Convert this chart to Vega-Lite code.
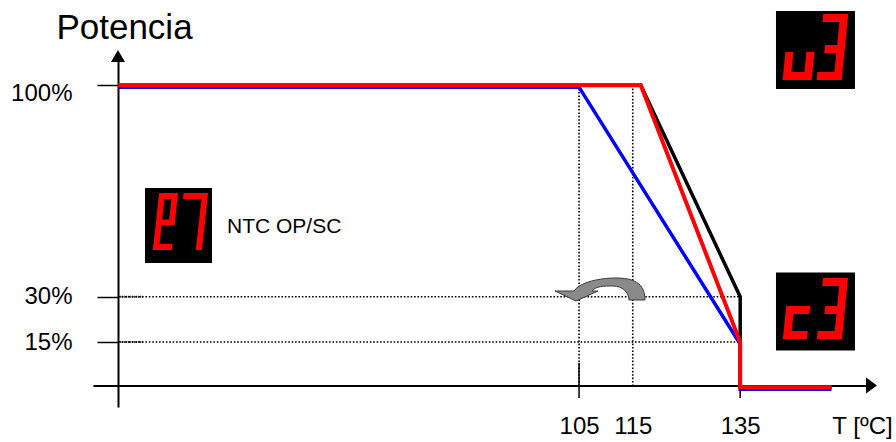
{
  "$schema": "https://vega.github.io/schema/vega-lite/v6.json",
  "width": 775,
  "height": 349,
  "autosize": {"type": "none"},
  "padding": {"left": 93, "top": 58, "right": 28, "bottom": 35},
  "background": "white",
  "config": {"view": {"stroke": null}, "axis": {"grid": false}, "font": "Liberation Sans"},
  "datasets": {
    "hdots": [
      {"T": 19.2, "T2": 135, "P": 30},
      {"T": 19.2, "T2": 135, "P": 15}
    ],
    "hdense": [
      {"T": 19.2, "T2": 23.8, "P": 30},
      {"T": 19.2, "T2": 23.8, "P": 15}
    ],
    "vdots": [
      {"T": 105, "P": 100, "P2": 0},
      {"T": 115, "P": 100, "P2": 0}
    ],
    "ticks": [
      {"T": 105, "P": 8.06, "P2": -3.52},
      {"T": 135, "P": 8.06, "P2": -3.52}
    ],
    "series": [
      {"s": "black", "i": 0, "T": 19.2, "P": 100},
      {"s": "black", "i": 1, "T": 116.5, "P": 100},
      {"s": "black", "i": 2, "T": 135, "P": 30},
      {"s": "black", "i": 3, "T": 135, "P": 0},
      {"s": "black", "i": 4, "T": 152, "P": 0},
      {"s": "blue", "i": 0, "T": 19.2, "P": 100},
      {"s": "blue", "i": 1, "T": 105, "P": 100},
      {"s": "blue", "i": 2, "T": 135, "P": 15},
      {"s": "blue", "i": 3, "T": 135, "P": 0},
      {"s": "blue", "i": 4, "T": 152, "P": 0},
      {"s": "red", "i": 0, "T": 19.2, "P": 100},
      {"s": "red", "i": 1, "T": 116.5, "P": 100},
      {"s": "red", "i": 2, "T": 135, "P": 15},
      {"s": "red", "i": 3, "T": 135, "P": 0},
      {"s": "red", "i": 4, "T": 152, "P": 0}
    ],
    "arrows": [
      {"name": "yarrow", "T": 19.15, "P": 111.65},
      {"name": "xarrow", "T": 160.47, "P": 0}
    ],
    "curve": [
      {"name": "swap", "T": 108.9, "P": 32.22}
    ],
    "boxes": [
      {"name": "u3box", "T": 149.02, "P": 111.65},
      {"name": "c3box", "T": 149.02, "P": 25.1},
      {"name": "e7box", "T": 30.42, "P": 53.57}
    ],
    "displays": [
      {"name": "u3", "T": 149.02, "P": 111.65},
      {"name": "c3", "T": 149.02, "P": 25.1},
      {"name": "e7", "T": 30.42, "P": 53.57}
    ],
    "notes": [
      {"label": "NTC OP/SC", "T": 39.45, "P": 53.07}
    ]
  },
  "encoding": {
    "x": {
      "field": "T",
      "type": "quantitative",
      "scale": {"domain": [14.5, 158.8], "nice": false, "zero": false},
      "axis": {
        "orient": "bottom",
        "values": [105, 115, 135],
        "offset": -21.5,
        "domainColor": "black",
        "domainWidth": 2,
        "ticks": true,
        "tickSize": 0,
        "tickOpacity": 0,
        "labelPadding": 28.5,
        "labelFontSize": 24,
        "labelColor": "black",
        "labelFont": "Liberation Sans",
        "labelFlush": false,
        "labelOverlap": false,
        "title": "T [ºC]",
        "titleX": 769,
        "titleY": 28.5,
        "titleAlign": "center",
        "titleBaseline": "top",
        "titleFontSize": 24,
        "titleFontWeight": "normal",
        "titleColor": "black",
        "titleFont": "Liberation Sans"
      }
    },
    "y": {
      "field": "P",
      "type": "quantitative",
      "scale": {"domain": [-6.5, 109], "nice": false, "zero": false},
      "axis": {
        "orient": "left",
        "values": [15, 30, 100],
        "offset": -25,
        "domainColor": "black",
        "domainWidth": 2,
        "tickColor": "black",
        "tickSize": 21,
        "tickWidth": 1.5,
        "labelPadding": 25,
        "labelFontSize": 24,
        "labelColor": "black",
        "labelFont": "Liberation Sans",
        "labelExpr": "datum.value + '%'",
        "labelOffset": {"condition": {"test": "datum.value == 100", "value": 8}, "value": 0},
        "labelFlush": false,
        "labelOverlap": false,
        "title": "Potencia",
        "titleAngle": 0,
        "titleX": 6,
        "titleY": -48,
        "titleAlign": "center",
        "titleBaseline": "top",
        "titleFontSize": 35,
        "titleFontWeight": "normal",
        "titleColor": "black",
        "titleFont": "Liberation Sans"
      }
    },
    "shape": {
      "field": "name",
      "type": "nominal",
      "scale": {
        "domain": ["yarrow", "xarrow", "swap", "u3box", "c3box", "e7box", "u3", "c3", "e7"],
        "range": [
          "M0 0L7 12L-7 12Z",
          "M0 -1.9L-11 -9.9L-11 6.1Z",
          "M45 10C45 -8 32 -12 16 -12C0 -12 -20 -8 -26 1L-45 1L-24 11L-2 1L-8 1C-4 -4 4 -4 13 -4C22 -4 29 2 29 10Z",
          "M-39.5 -39L39.5 -39L39.5 39L-39.5 39Z",
          "M-39.5 -39L39.5 -39L39.5 39L-39.5 39Z",
          "M-33.5 -37.5L33.5 -37.5L33.5 37.5L-33.5 37.5Z",
          "M-30 2L-22 2L-24.8 30L-32.8 30Z M-9 2L-1 2L-3.8 30L-11.8 30Z M-32 22L-3 22L-3.8 30L-32.8 30Z M24.8 -36L32.8 -36L26.2 30L18.2 30Z M7.8 -36L32.8 -36L32 -28L7 -28Z M9.7 -5L29.7 -5L28.9 3L8.9 3Z M2 22L27 22L26.2 30L1.2 30Z",
          "M-29.25 -5.5L-5.25 -5.5L-6.05 2.5L-30.05 2.5Z M-29.25 -5.5L-21.25 -5.5L-24.55 27.5L-32.55 27.5Z M-31.75 19.5L-7.75 19.5L-8.55 27.5L-32.55 27.5Z M24.55 -33.5L32.55 -33.5L26.45 27.5L18.45 27.5Z M7.55 -33.5L32.55 -33.5L31.75 -25.5L6.75 -25.5Z M9.75 -5.5L29.75 -5.5L28.95 2.5L8.95 2.5Z M2.25 19.5L27.25 19.5L26.45 27.5L1.45 27.5Z",
          "M-19.4 -32.5L-13.4 -32.5L-19.6 24.5L-25.6 24.5Z M-19.4 -32.5L-0.4 -32.5L-1 -26.5L-20 -26.5Z M-6.4 -32.5L-0.4 -32.5L-3.6 -3L-9.6 -3Z M-22.3 -6L-3.3 -6L-3.9 0L-22.9 0Z M-25 18.5L-6 18.5L-6.6 24.5L-25.6 24.5Z M5.1 -32.5L29.6 -32.5L29 -26.5L4.5 -26.5Z M23.6 -32.5L29.6 -32.5L23.4 24.5L17.4 24.5Z"
        ]
      },
      "legend": null
    }
  },
  "layer": [
    {
      "data": {"name": "hdots"},
      "mark": {"type": "rule", "color": "black", "strokeWidth": 1.6, "strokeDash": [1.6, 1.8]},
      "encoding": {"x2": {"field": "T2"}, "shape": null}
    },
    {
      "data": {"name": "hdense"},
      "mark": {"type": "rule", "color": "black", "strokeWidth": 2, "strokeDash": [1, 1]},
      "encoding": {"x2": {"field": "T2"}, "shape": null}
    },
    {
      "data": {"name": "vdots"},
      "mark": {"type": "rule", "color": "black", "strokeWidth": 1.6, "strokeDash": [1.6, 1.8]},
      "encoding": {"y2": {"field": "P2"}, "shape": null}
    },
    {
      "data": {"name": "ticks"},
      "mark": {"type": "rule", "color": "black", "strokeWidth": 1.5},
      "encoding": {"y2": {"field": "P2"}, "shape": null}
    },
    {
      "data": {"name": "series"},
      "transform": [{"filter": "datum.s == 'black'"}],
      "mark": {"type": "line", "color": "black", "strokeWidth": 3.5},
      "encoding": {"order": {"field": "i", "type": "quantitative"}, "shape": null}
    },
    {
      "data": {"name": "series"},
      "transform": [{"filter": "datum.s == 'blue'"}],
      "mark": {"type": "line", "color": "#0000ff", "strokeWidth": 3.5, "yOffset": 2},
      "encoding": {"order": {"field": "i", "type": "quantitative"}, "shape": null}
    },
    {
      "data": {"name": "series"},
      "transform": [{"filter": "datum.s == 'red'"}],
      "mark": {"type": "line", "color": "#ff0000", "strokeWidth": 4},
      "encoding": {"order": {"field": "i", "type": "quantitative"}, "shape": null}
    },
    {
      "data": {"name": "arrows"},
      "mark": {"type": "point", "filled": true, "opacity": 1, "color": "black", "size": 4}
    },
    {
      "data": {"name": "curve"},
      "mark": {"type": "point", "filled": true, "opacity": 1, "fill": "#8a8a8a", "stroke": "#3a3a3a", "strokeWidth": 1, "size": 4}
    },
    {
      "data": {"name": "boxes"},
      "mark": {"type": "point", "filled": true, "opacity": 1, "color": "black", "size": 4}
    },
    {
      "data": {"name": "displays"},
      "mark": {"type": "point", "filled": true, "opacity": 1, "color": "#ff0000", "size": 4}
    },
    {
      "data": {"name": "notes"},
      "mark": {"type": "text", "align": "left", "baseline": "middle", "fontSize": 21, "font": "Liberation Sans", "color": "black"},
      "encoding": {"text": {"field": "label"}, "shape": null}
    }
  ]
}
